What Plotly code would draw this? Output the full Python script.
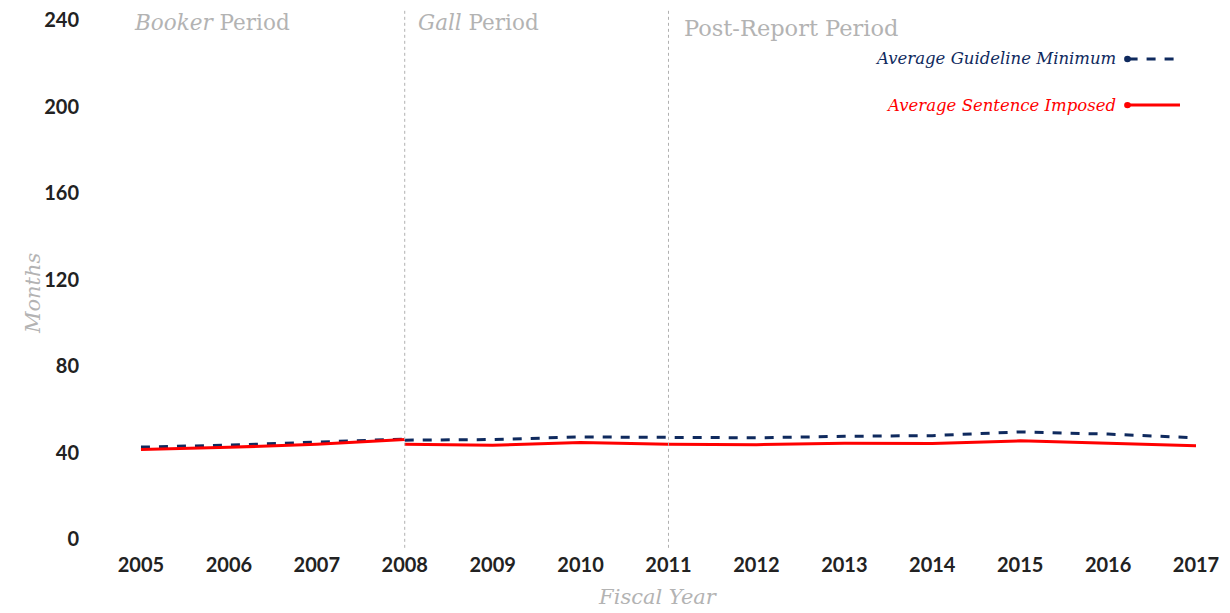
import plotly.graph_objects as go

# Data
years_booker = [2005, 2006, 2007, 2008]
years_later = [2008, 2009, 2010, 2011, 2012, 2013, 2014, 2015, 2016, 2017]
guideline_booker = [42.5, 43.4, 44.8, 46.2]
sentence_booker = [41.4, 42.4, 43.8, 46.0]
guideline_later = [45.7, 46.0, 47.2, 47.0, 46.8, 47.5, 47.8, 49.5, 48.5, 46.8]
sentence_later = [43.8, 43.4, 44.6, 43.8, 43.6, 44.3, 44.2, 45.4, 44.3, 43.1]
x_ticks = list(range(2005, 2018))
y_ticks = [0, 40, 80, 120, 160, 200, 240]
period_bounds = [2008, 2011]

NAVY = "#0f2a5e"
RED = "#ff0000"
GREY = "#b3b3b3"
SERIF = "DejaVu Serif"

fig = go.Figure()
for xs, ys in [(years_booker, guideline_booker), (years_later, guideline_later)]:
    fig.add_trace(go.Scatter(x=xs, y=ys, mode="lines", showlegend=False,
                             line=dict(color=NAVY, width=3, dash="dash")))
for xs, ys in [(years_booker, sentence_booker), (years_later, sentence_later)]:
    fig.add_trace(go.Scatter(x=xs, y=ys, mode="lines", showlegend=False,
                             line=dict(color=RED, width=3)))

for b in period_bounds:
    fig.add_shape(type="line", xref="x", yref="paper", x0=b, x1=b, y0=-0.017, y1=1.02,
                  line=dict(color="#b0b0b0", width=1, dash="dot"))

# period labels
fig.add_annotation(xref="paper", yref="paper", x=0.0287, y=0.996, xanchor="left", yanchor="middle",
                   text="<i>Booker</i> Period", showarrow=False,
                   font=dict(family=SERIF, size=21.5, color=GREY))
fig.add_annotation(xref="paper", yref="paper", x=0.283, y=0.996, xanchor="left", yanchor="middle",
                   text="<i>Gall</i> Period", showarrow=False,
                   font=dict(family=SERIF, size=21.5, color=GREY))
fig.add_annotation(xref="paper", yref="paper", x=0.522, y=0.985, xanchor="left", yanchor="middle",
                   text="Post-Report Period", showarrow=False,
                   font=dict(family=SERIF, size=22.5, color=GREY))

# axis title (Months)
fig.add_annotation(xref="paper", yref="paper", x=-0.060, y=0.474, xanchor="center", yanchor="middle",
                   text="<i>Months</i>", textangle=-90, showarrow=False,
                   font=dict(family=SERIF, size=21, color=GREY))

# custom legend
leg = [("Average Guideline Minimum", NAVY, "dash", 0.925),
       ("Average Sentence Imposed", RED, "solid", 0.836)]
for txt, col, dash, yy in leg:
    fig.add_annotation(xref="paper", yref="paper", x=0.913, y=yy, xanchor="right", yanchor="middle",
                       text="<i>" + txt + "</i>", showarrow=False,
                       font=dict(family=SERIF, size=16.5, color=col))
    fig.add_shape(type="line", xref="paper", yref="paper", x0=0.9225, x1=0.9686, y0=yy, y1=yy,
                  line=dict(color=col, width=3, dash=dash))
    fig.add_shape(type="circle", xref="paper", yref="paper", x0=0.9185, x1=0.9245,
                  y0=yy - 0.0062, y1=yy + 0.0062, fillcolor=col, line=dict(color=col, width=0))

fig.update_layout(
    width=1230, height=613,
    margin=dict(l=92, r=23, t=12, b=82, autoexpand=False),
    paper_bgcolor="white", plot_bgcolor="white",
    showlegend=False,
    xaxis=dict(range=[2004.534, 2017.216], tickmode="array", tickvals=x_ticks,
               ticktext=[str(v) for v in x_ticks], showgrid=False, zeroline=False,
               showline=False, ticks="", ticklabelstandoff=12, ticklabeloverflow="allow",
               automargin=False,
               tickfont=dict(family="Lato", size=20, color="#222222", weight="bold"),
               title=dict(text="<i>Fiscal Year</i>", standoff=14,
                          font=dict(family=SERIF, size=21, color=GREY))),
    yaxis=dict(range=[0, 240], tickmode="array", tickvals=y_ticks, showgrid=False,
               zeroline=False, showline=False, ticks="", ticklabelstandoff=20,
               ticklabeloverflow="allow", automargin=False,
               tickfont=dict(family="Lato", size=20, color="#222222", weight="bold")),
)

fig.write_html("out.html")
